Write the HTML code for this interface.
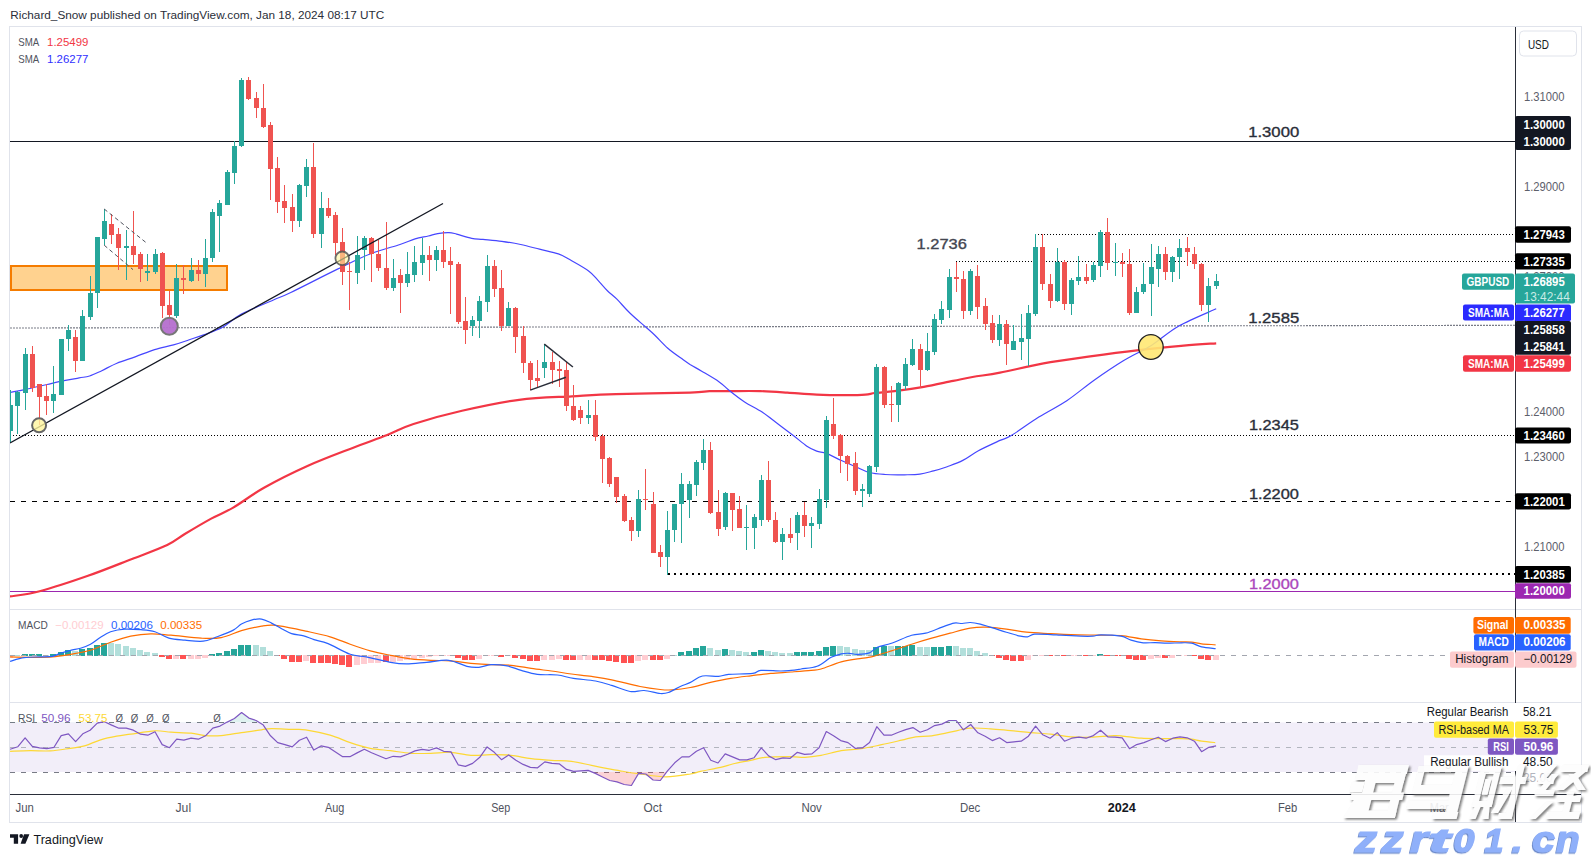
<!DOCTYPE html>
<html><head><meta charset="utf-8"><style>
html,body{margin:0;padding:0;background:#fff;}
body{width:1591px;height:857px;overflow:hidden;}
svg{display:block;font-family:"Liberation Sans", sans-serif;}
</style></head><body>
<svg width="1591" height="857" viewBox="0 0 1591 857">
<rect x="0" y="0" width="1591" height="857" fill="#fff"/>
<defs>
<clipPath id="pp"><rect x="10" y="27" width="1505" height="582"/></clipPath>
<clipPath id="mp"><rect x="10" y="610" width="1505" height="92"/></clipPath>
<clipPath id="rp"><rect x="10" y="703" width="1505" height="91"/></clipPath>
</defs>

<text x="10.3" y="19.1" font-size="11.5" textLength="374.0" lengthAdjust="spacingAndGlyphs" fill="#2a2e39">Richard_Snow published on TradingView.com, Jan 18, 2024 08:17 UTC</text>
<rect x="9.5" y="26.5" width="1572" height="796" fill="none" stroke="#e0e3eb" stroke-width="1"/>
<line x1="10" y1="609.5" x2="1581" y2="609.5" stroke="#e0e3eb"/>
<line x1="10" y1="702.5" x2="1581" y2="702.5" stroke="#e0e3eb"/>
<g clip-path="url(#pp)">
<rect x="11" y="266" width="216" height="24" fill="#ffd28f" stroke="#f57c00" stroke-width="2"/>
<g shape-rendering="crispEdges">
<line x1="10" y1="141.5" x2="1515" y2="141.5" stroke="#131722" stroke-width="1"/>
<line x1="1035" y1="234.5" x2="1515" y2="234.5" stroke="#000" stroke-width="1" stroke-dasharray="1 2"/>
<line x1="956" y1="261.5" x2="1515" y2="261.5" stroke="#000" stroke-width="1" stroke-dasharray="1 2"/>
<line x1="10" y1="435.5" x2="1515" y2="435.5" stroke="#000" stroke-width="1" stroke-dasharray="1 2"/>
<line x1="10" y1="501.5" x2="1515" y2="501.5" stroke="#000" stroke-width="1" stroke-dasharray="5 6"/>
<line x1="668" y1="574" x2="1515" y2="574" stroke="#000" stroke-width="2" stroke-dasharray="2 4"/>
<line x1="10" y1="591.5" x2="1515" y2="591.5" stroke="#9c27b0" stroke-width="1"/>
</g>
<line x1="10" y1="328" x2="1515" y2="325.3" stroke="#787b86" stroke-width="1.1" stroke-dasharray="2 1"/>
<path d="M9.7,596.5 C14.7,595.6 26.6,594.7 39.6,591.2 C52.6,587.8 72.6,581.2 88.0,575.8 C103.4,570.4 118.8,564.1 132.0,559.0 C145.2,553.9 158.4,549.2 167.2,545.0 C176.0,540.8 177.5,538.4 184.8,534.0 C192.1,529.6 203.1,523.0 211.2,518.6 C219.3,514.2 224.4,512.7 233.2,507.6 C242.0,502.5 251.5,494.8 264.0,487.8 C276.5,480.8 293.3,472.4 308.0,465.8 C322.7,459.2 338.8,453.3 352.0,448.2 C365.2,443.1 376.9,439.0 387.2,435.0 C397.4,431.0 401.0,428.0 413.5,424.0 C426.0,420.0 444.4,414.8 462.0,410.8 C479.6,406.8 500.8,402.2 519.1,399.8 C537.4,397.4 555.8,397.2 571.9,396.3 C588.0,395.4 596.2,394.7 615.9,394.1 C635.6,393.5 674.4,393.1 690.0,392.6 C705.6,392.1 703.0,391.4 709.5,391.2 C716.0,390.9 720.6,391.1 729.0,391.1 C737.4,391.1 750.4,390.9 760.1,391.1 C769.8,391.4 778.0,392.0 787.4,392.6 C796.8,393.2 807.0,394.2 816.7,394.6 C826.5,395.0 837.8,395.1 845.9,395.1 C854.0,395.1 860.5,395.0 865.4,394.6 C870.3,394.2 870.2,393.6 875.1,393.0 C880.0,392.4 886.5,392.1 894.6,391.1 C902.7,390.1 914.0,388.5 923.8,386.8 C933.5,385.1 945.0,382.5 953.1,380.9 C961.2,379.3 964.7,378.4 972.5,377.0 C980.3,375.6 988.2,375.0 1000.0,372.7 C1011.8,370.4 1028.5,366.1 1043.5,363.4 C1058.5,360.7 1074.6,358.6 1090.2,356.4 C1105.8,354.2 1121.3,352.1 1136.9,350.3 C1152.5,348.5 1170.4,346.9 1183.6,345.7 C1196.8,344.5 1210.8,343.7 1216.2,343.3" fill="none" stroke="#f23645" stroke-width="2.2" stroke-linejoin="round"/>
<path d="M10.4,392.4 C12.8,391.9 18.4,390.9 24.5,389.6 C30.6,388.3 40.5,386.0 47.1,384.5 C53.7,383.0 58.7,381.8 64.1,380.7 C69.4,379.6 75.0,378.7 79.2,377.9 C83.5,377.1 85.8,377.2 89.6,376.0 C93.4,374.8 97.2,372.8 101.8,370.7 C106.3,368.6 111.2,365.5 116.9,363.2 C122.6,360.9 129.5,358.9 135.8,356.6 C142.1,354.3 148.3,351.6 154.6,349.6 C160.9,347.7 167.8,346.5 173.5,344.9 C179.2,343.3 183.6,341.7 188.6,340.0 C193.6,338.3 198.0,337.0 203.7,334.9 C209.3,332.8 216.2,330.8 222.5,327.3 C228.8,323.8 232.9,318.7 241.4,314.1 C249.9,309.6 265.2,303.6 273.4,300.0 C281.6,296.4 280.2,297.6 290.8,292.5 C301.4,287.4 323.8,275.8 337.0,269.4 C350.2,263.0 359.5,258.1 370.0,254.0 C380.5,249.8 392.5,247.0 400.0,244.5 C407.5,242.0 410.4,240.3 415.1,238.9 C419.8,237.5 424.5,236.9 428.3,236.0 C432.1,235.1 434.2,234.2 437.7,233.6 C441.1,233.0 445.9,232.5 449.0,232.6 C452.1,232.7 452.8,233.1 456.6,234.1 C460.4,235.1 467.3,237.4 471.7,238.3 C476.1,239.2 478.0,238.9 483.0,239.4 C488.0,239.9 495.5,240.5 501.8,241.3 C508.1,242.2 514.4,243.2 520.7,244.5 C527.0,245.8 533.2,247.6 539.5,249.2 C545.8,250.8 553.4,252.2 558.4,253.9 C563.4,255.6 564.7,256.8 569.7,259.6 C574.7,262.4 583.9,267.4 588.6,270.9 C593.3,274.3 594.9,277.0 598.0,280.3 C601.1,283.6 604.2,287.6 607.4,290.7 C610.5,293.8 613.1,295.4 616.9,299.2 C620.7,303.0 625.4,308.8 630.1,313.3 C634.8,317.9 641.0,322.9 645.1,326.5 C649.2,330.1 650.8,331.4 654.6,335.0 C658.4,338.6 663.1,344.1 667.8,348.2 C672.5,352.3 679.2,356.8 682.9,359.5 C686.6,362.2 686.9,362.4 690.0,364.4 C693.1,366.3 696.8,368.3 701.7,371.2 C706.6,374.1 714.7,378.7 719.2,381.9 C723.8,385.1 724.8,386.9 729.0,390.3 C733.2,393.7 739.1,398.4 744.6,402.0 C750.1,405.6 756.6,408.5 762.1,412.1 C767.6,415.7 772.5,419.9 777.7,423.8 C782.9,427.7 788.4,431.8 793.3,435.5 C798.2,439.2 803.0,443.6 806.9,446.2 C810.8,448.8 813.5,449.9 816.7,451.1 C820.0,452.3 822.2,451.8 826.4,453.4 C830.6,455.0 837.1,458.6 842.0,460.8 C846.9,463.0 851.1,464.8 855.6,466.7 C860.1,468.6 864.4,471.2 869.3,472.5 C874.2,473.8 879.1,474.1 884.9,474.5 C890.7,474.9 898.5,474.9 904.3,474.8 C910.1,474.7 915.0,474.8 919.9,474.1 C924.8,473.5 929.0,472.1 933.6,470.9 C938.2,469.7 942.3,468.4 947.2,466.7 C952.1,464.9 957.6,463.1 962.8,460.4 C968.0,457.7 972.2,454.0 978.4,450.7 C984.6,447.4 994.6,442.9 1000.0,440.4 C1005.4,437.9 1004.3,439.7 1010.8,435.8 C1017.3,431.9 1029.5,423.0 1038.8,417.1 C1048.1,411.2 1057.5,406.9 1066.8,400.7 C1076.1,394.5 1085.4,386.3 1094.8,379.7 C1104.2,373.1 1113.6,366.7 1122.9,361.0 C1132.2,355.3 1141.6,351.5 1150.9,345.7 C1160.2,339.9 1168.0,332.1 1178.9,326.0 C1189.8,319.9 1210.0,311.7 1216.2,308.8" fill="none" stroke="#4646ff" stroke-width="1.2" stroke-linejoin="round"/>
<g shape-rendering="crispEdges">
<rect x="10" y="390" width="1" height="52" fill="#26a69a"/>
<rect x="8" y="405" width="5" height="26" fill="#26a69a"/>
<rect x="17" y="391" width="1" height="43" fill="#26a69a"/>
<rect x="15" y="392" width="5" height="14" fill="#26a69a"/>
<rect x="25" y="348" width="1" height="62" fill="#26a69a"/>
<rect x="23" y="354" width="5" height="39" fill="#26a69a"/>
<rect x="32" y="346" width="1" height="46" fill="#ef5350"/>
<rect x="30" y="354" width="5" height="34" fill="#ef5350"/>
<rect x="39" y="384" width="1" height="41" fill="#ef5350"/>
<rect x="37" y="384" width="5" height="13" fill="#ef5350"/>
<rect x="46" y="384" width="1" height="31" fill="#ef5350"/>
<rect x="44" y="396" width="5" height="5" fill="#ef5350"/>
<rect x="53" y="366" width="1" height="47" fill="#26a69a"/>
<rect x="51" y="394" width="5" height="7" fill="#26a69a"/>
<rect x="61" y="339" width="1" height="56" fill="#26a69a"/>
<rect x="59" y="339" width="5" height="56" fill="#26a69a"/>
<rect x="68" y="325" width="1" height="26" fill="#26a69a"/>
<rect x="66" y="330" width="5" height="9" fill="#26a69a"/>
<rect x="75" y="330" width="1" height="42" fill="#ef5350"/>
<rect x="73" y="337" width="5" height="24" fill="#ef5350"/>
<rect x="82" y="310" width="1" height="51" fill="#26a69a"/>
<rect x="80" y="316" width="5" height="45" fill="#26a69a"/>
<rect x="90" y="276" width="1" height="44" fill="#26a69a"/>
<rect x="88" y="293" width="5" height="24" fill="#26a69a"/>
<rect x="97" y="237" width="1" height="71" fill="#26a69a"/>
<rect x="95" y="237" width="5" height="56" fill="#26a69a"/>
<rect x="104" y="209" width="1" height="36" fill="#26a69a"/>
<rect x="102" y="221" width="5" height="18" fill="#26a69a"/>
<rect x="111" y="214" width="1" height="30" fill="#ef5350"/>
<rect x="109" y="224" width="5" height="11" fill="#ef5350"/>
<rect x="118" y="228" width="1" height="42" fill="#ef5350"/>
<rect x="116" y="234" width="5" height="14" fill="#ef5350"/>
<rect x="126" y="230" width="1" height="50" fill="#26a69a"/>
<rect x="124" y="246" width="5" height="2" fill="#26a69a"/>
<rect x="133" y="211" width="1" height="53" fill="#ef5350"/>
<rect x="131" y="246" width="5" height="9" fill="#ef5350"/>
<rect x="140" y="252" width="1" height="30" fill="#ef5350"/>
<rect x="138" y="254" width="5" height="15" fill="#ef5350"/>
<rect x="147" y="254" width="1" height="27" fill="#26a69a"/>
<rect x="145" y="271" width="5" height="2" fill="#26a69a"/>
<rect x="155" y="249" width="1" height="25" fill="#26a69a"/>
<rect x="153" y="254" width="5" height="18" fill="#26a69a"/>
<rect x="162" y="252" width="1" height="66" fill="#ef5350"/>
<rect x="160" y="253" width="5" height="53" fill="#ef5350"/>
<rect x="169" y="291" width="1" height="34" fill="#ef5350"/>
<rect x="167" y="305" width="5" height="10" fill="#ef5350"/>
<rect x="176" y="264" width="1" height="54" fill="#26a69a"/>
<rect x="174" y="278" width="5" height="38" fill="#26a69a"/>
<rect x="183" y="265" width="1" height="29" fill="#ef5350"/>
<rect x="181" y="278" width="5" height="2" fill="#ef5350"/>
<rect x="191" y="258" width="1" height="24" fill="#26a69a"/>
<rect x="189" y="270" width="5" height="11" fill="#26a69a"/>
<rect x="198" y="260" width="1" height="21" fill="#ef5350"/>
<rect x="196" y="270" width="5" height="4" fill="#ef5350"/>
<rect x="205" y="239" width="1" height="48" fill="#26a69a"/>
<rect x="203" y="258" width="5" height="16" fill="#26a69a"/>
<rect x="212" y="209" width="1" height="53" fill="#26a69a"/>
<rect x="210" y="212" width="5" height="46" fill="#26a69a"/>
<rect x="219" y="200" width="1" height="52" fill="#26a69a"/>
<rect x="217" y="203" width="5" height="13" fill="#26a69a"/>
<rect x="227" y="170" width="1" height="35" fill="#26a69a"/>
<rect x="225" y="172" width="5" height="33" fill="#26a69a"/>
<rect x="234" y="141" width="1" height="43" fill="#26a69a"/>
<rect x="232" y="146" width="5" height="27" fill="#26a69a"/>
<rect x="241" y="78" width="1" height="69" fill="#26a69a"/>
<rect x="239" y="80" width="5" height="66" fill="#26a69a"/>
<rect x="248" y="77" width="1" height="23" fill="#ef5350"/>
<rect x="246" y="80" width="5" height="19" fill="#ef5350"/>
<rect x="256" y="92" width="1" height="26" fill="#ef5350"/>
<rect x="254" y="98" width="5" height="10" fill="#ef5350"/>
<rect x="263" y="84" width="1" height="44" fill="#ef5350"/>
<rect x="261" y="108" width="5" height="19" fill="#ef5350"/>
<rect x="270" y="122" width="1" height="78" fill="#ef5350"/>
<rect x="268" y="125" width="5" height="44" fill="#ef5350"/>
<rect x="277" y="157" width="1" height="56" fill="#ef5350"/>
<rect x="275" y="168" width="5" height="34" fill="#ef5350"/>
<rect x="284" y="185" width="1" height="38" fill="#ef5350"/>
<rect x="282" y="201" width="5" height="7" fill="#ef5350"/>
<rect x="292" y="194" width="1" height="38" fill="#ef5350"/>
<rect x="290" y="207" width="5" height="14" fill="#ef5350"/>
<rect x="299" y="184" width="1" height="43" fill="#26a69a"/>
<rect x="297" y="185" width="5" height="36" fill="#26a69a"/>
<rect x="306" y="159" width="1" height="38" fill="#26a69a"/>
<rect x="304" y="167" width="5" height="19" fill="#26a69a"/>
<rect x="313" y="143" width="1" height="95" fill="#ef5350"/>
<rect x="311" y="167" width="5" height="67" fill="#ef5350"/>
<rect x="321" y="192" width="1" height="56" fill="#26a69a"/>
<rect x="319" y="208" width="5" height="26" fill="#26a69a"/>
<rect x="328" y="198" width="1" height="20" fill="#ef5350"/>
<rect x="326" y="208" width="5" height="8" fill="#ef5350"/>
<rect x="335" y="212" width="1" height="43" fill="#ef5350"/>
<rect x="333" y="215" width="5" height="28" fill="#ef5350"/>
<rect x="342" y="228" width="1" height="57" fill="#ef5350"/>
<rect x="340" y="242" width="5" height="30" fill="#ef5350"/>
<rect x="349" y="262" width="1" height="48" fill="#ef5350"/>
<rect x="347" y="271" width="5" height="1" fill="#ef5350"/>
<rect x="357" y="236" width="1" height="48" fill="#26a69a"/>
<rect x="355" y="255" width="5" height="18" fill="#26a69a"/>
<rect x="364" y="236" width="1" height="34" fill="#26a69a"/>
<rect x="362" y="238" width="5" height="12" fill="#26a69a"/>
<rect x="371" y="237" width="1" height="45" fill="#ef5350"/>
<rect x="369" y="238" width="5" height="16" fill="#ef5350"/>
<rect x="378" y="240" width="1" height="31" fill="#ef5350"/>
<rect x="376" y="254" width="5" height="14" fill="#ef5350"/>
<rect x="386" y="222" width="1" height="68" fill="#ef5350"/>
<rect x="384" y="268" width="5" height="20" fill="#ef5350"/>
<rect x="393" y="259" width="1" height="32" fill="#26a69a"/>
<rect x="391" y="278" width="5" height="10" fill="#26a69a"/>
<rect x="400" y="269" width="1" height="44" fill="#ef5350"/>
<rect x="398" y="275" width="5" height="8" fill="#ef5350"/>
<rect x="407" y="252" width="1" height="35" fill="#26a69a"/>
<rect x="405" y="274" width="5" height="9" fill="#26a69a"/>
<rect x="414" y="246" width="1" height="36" fill="#26a69a"/>
<rect x="412" y="262" width="5" height="13" fill="#26a69a"/>
<rect x="422" y="238" width="1" height="37" fill="#26a69a"/>
<rect x="420" y="255" width="5" height="8" fill="#26a69a"/>
<rect x="429" y="246" width="1" height="35" fill="#ef5350"/>
<rect x="427" y="255" width="5" height="5" fill="#ef5350"/>
<rect x="436" y="246" width="1" height="25" fill="#26a69a"/>
<rect x="434" y="250" width="5" height="10" fill="#26a69a"/>
<rect x="443" y="231" width="1" height="37" fill="#ef5350"/>
<rect x="441" y="250" width="5" height="12" fill="#ef5350"/>
<rect x="450" y="247" width="1" height="67" fill="#ef5350"/>
<rect x="448" y="261" width="5" height="4" fill="#ef5350"/>
<rect x="458" y="262" width="1" height="62" fill="#ef5350"/>
<rect x="456" y="264" width="5" height="58" fill="#ef5350"/>
<rect x="465" y="297" width="1" height="47" fill="#ef5350"/>
<rect x="463" y="321" width="5" height="9" fill="#ef5350"/>
<rect x="472" y="316" width="1" height="20" fill="#26a69a"/>
<rect x="470" y="320" width="5" height="6" fill="#26a69a"/>
<rect x="479" y="296" width="1" height="42" fill="#26a69a"/>
<rect x="477" y="301" width="5" height="20" fill="#26a69a"/>
<rect x="487" y="255" width="1" height="57" fill="#26a69a"/>
<rect x="485" y="266" width="5" height="36" fill="#26a69a"/>
<rect x="494" y="260" width="1" height="37" fill="#ef5350"/>
<rect x="492" y="266" width="5" height="23" fill="#ef5350"/>
<rect x="501" y="270" width="1" height="61" fill="#ef5350"/>
<rect x="499" y="288" width="5" height="38" fill="#ef5350"/>
<rect x="508" y="302" width="1" height="24" fill="#26a69a"/>
<rect x="506" y="308" width="5" height="18" fill="#26a69a"/>
<rect x="515" y="307" width="1" height="46" fill="#ef5350"/>
<rect x="513" y="308" width="5" height="29" fill="#ef5350"/>
<rect x="523" y="326" width="1" height="47" fill="#ef5350"/>
<rect x="521" y="336" width="5" height="27" fill="#ef5350"/>
<rect x="530" y="361" width="1" height="29" fill="#ef5350"/>
<rect x="528" y="363" width="5" height="17" fill="#ef5350"/>
<rect x="537" y="360" width="1" height="27" fill="#ef5350"/>
<rect x="535" y="378" width="5" height="3" fill="#ef5350"/>
<rect x="544" y="344" width="1" height="34" fill="#26a69a"/>
<rect x="542" y="362" width="5" height="6" fill="#26a69a"/>
<rect x="552" y="352" width="1" height="32" fill="#ef5350"/>
<rect x="550" y="362" width="5" height="8" fill="#ef5350"/>
<rect x="559" y="361" width="1" height="26" fill="#ef5350"/>
<rect x="557" y="369" width="5" height="2" fill="#ef5350"/>
<rect x="566" y="362" width="1" height="49" fill="#ef5350"/>
<rect x="564" y="370" width="5" height="36" fill="#ef5350"/>
<rect x="573" y="385" width="1" height="36" fill="#ef5350"/>
<rect x="571" y="406" width="5" height="14" fill="#ef5350"/>
<rect x="580" y="406" width="1" height="18" fill="#ef5350"/>
<rect x="578" y="410" width="5" height="8" fill="#ef5350"/>
<rect x="588" y="400" width="1" height="24" fill="#26a69a"/>
<rect x="586" y="415" width="5" height="3" fill="#26a69a"/>
<rect x="595" y="400" width="1" height="41" fill="#ef5350"/>
<rect x="593" y="415" width="5" height="22" fill="#ef5350"/>
<rect x="602" y="434" width="1" height="49" fill="#ef5350"/>
<rect x="600" y="436" width="5" height="23" fill="#ef5350"/>
<rect x="609" y="457" width="1" height="30" fill="#ef5350"/>
<rect x="607" y="458" width="5" height="26" fill="#ef5350"/>
<rect x="616" y="477" width="1" height="26" fill="#ef5350"/>
<rect x="614" y="477" width="5" height="20" fill="#ef5350"/>
<rect x="624" y="494" width="1" height="28" fill="#ef5350"/>
<rect x="622" y="496" width="5" height="25" fill="#ef5350"/>
<rect x="631" y="517" width="1" height="24" fill="#ef5350"/>
<rect x="629" y="520" width="5" height="11" fill="#ef5350"/>
<rect x="638" y="490" width="1" height="47" fill="#26a69a"/>
<rect x="636" y="499" width="5" height="32" fill="#26a69a"/>
<rect x="645" y="469" width="1" height="41" fill="#ef5350"/>
<rect x="643" y="499" width="5" height="1" fill="#ef5350"/>
<rect x="653" y="492" width="1" height="61" fill="#ef5350"/>
<rect x="651" y="504" width="5" height="49" fill="#ef5350"/>
<rect x="660" y="545" width="1" height="22" fill="#ef5350"/>
<rect x="658" y="552" width="5" height="5" fill="#ef5350"/>
<rect x="667" y="511" width="1" height="64" fill="#26a69a"/>
<rect x="665" y="530" width="5" height="27" fill="#26a69a"/>
<rect x="674" y="504" width="1" height="38" fill="#26a69a"/>
<rect x="672" y="504" width="5" height="26" fill="#26a69a"/>
<rect x="681" y="473" width="1" height="70" fill="#26a69a"/>
<rect x="679" y="484" width="5" height="20" fill="#26a69a"/>
<rect x="689" y="481" width="1" height="37" fill="#26a69a"/>
<rect x="687" y="484" width="5" height="16" fill="#26a69a"/>
<rect x="696" y="460" width="1" height="36" fill="#26a69a"/>
<rect x="694" y="462" width="5" height="23" fill="#26a69a"/>
<rect x="703" y="439" width="1" height="31" fill="#26a69a"/>
<rect x="701" y="450" width="5" height="13" fill="#26a69a"/>
<rect x="710" y="442" width="1" height="72" fill="#ef5350"/>
<rect x="708" y="450" width="5" height="63" fill="#ef5350"/>
<rect x="718" y="490" width="1" height="46" fill="#ef5350"/>
<rect x="716" y="512" width="5" height="17" fill="#ef5350"/>
<rect x="725" y="492" width="1" height="38" fill="#26a69a"/>
<rect x="723" y="493" width="5" height="34" fill="#26a69a"/>
<rect x="732" y="493" width="1" height="38" fill="#ef5350"/>
<rect x="730" y="493" width="5" height="17" fill="#ef5350"/>
<rect x="739" y="496" width="1" height="32" fill="#ef5350"/>
<rect x="737" y="509" width="5" height="19" fill="#ef5350"/>
<rect x="746" y="505" width="1" height="45" fill="#26a69a"/>
<rect x="744" y="527" width="5" height="1" fill="#26a69a"/>
<rect x="754" y="514" width="1" height="35" fill="#26a69a"/>
<rect x="752" y="517" width="5" height="11" fill="#26a69a"/>
<rect x="761" y="475" width="1" height="51" fill="#26a69a"/>
<rect x="759" y="480" width="5" height="40" fill="#26a69a"/>
<rect x="768" y="461" width="1" height="61" fill="#ef5350"/>
<rect x="766" y="480" width="5" height="40" fill="#ef5350"/>
<rect x="775" y="512" width="1" height="31" fill="#ef5350"/>
<rect x="773" y="520" width="5" height="22" fill="#ef5350"/>
<rect x="782" y="528" width="1" height="32" fill="#26a69a"/>
<rect x="780" y="534" width="5" height="8" fill="#26a69a"/>
<rect x="790" y="518" width="1" height="25" fill="#ef5350"/>
<rect x="788" y="534" width="5" height="4" fill="#ef5350"/>
<rect x="797" y="512" width="1" height="38" fill="#26a69a"/>
<rect x="795" y="515" width="5" height="18" fill="#26a69a"/>
<rect x="804" y="502" width="1" height="35" fill="#ef5350"/>
<rect x="802" y="515" width="5" height="11" fill="#ef5350"/>
<rect x="811" y="517" width="1" height="31" fill="#26a69a"/>
<rect x="809" y="523" width="5" height="3" fill="#26a69a"/>
<rect x="819" y="489" width="1" height="40" fill="#26a69a"/>
<rect x="817" y="499" width="5" height="25" fill="#26a69a"/>
<rect x="826" y="416" width="1" height="92" fill="#26a69a"/>
<rect x="824" y="420" width="5" height="80" fill="#26a69a"/>
<rect x="833" y="398" width="1" height="41" fill="#ef5350"/>
<rect x="831" y="424" width="5" height="12" fill="#ef5350"/>
<rect x="840" y="434" width="1" height="39" fill="#ef5350"/>
<rect x="838" y="435" width="5" height="21" fill="#ef5350"/>
<rect x="847" y="455" width="1" height="26" fill="#ef5350"/>
<rect x="845" y="456" width="5" height="8" fill="#ef5350"/>
<rect x="855" y="452" width="1" height="43" fill="#ef5350"/>
<rect x="853" y="463" width="5" height="28" fill="#ef5350"/>
<rect x="862" y="484" width="1" height="23" fill="#26a69a"/>
<rect x="860" y="489" width="5" height="2" fill="#26a69a"/>
<rect x="869" y="465" width="1" height="32" fill="#26a69a"/>
<rect x="867" y="466" width="5" height="28" fill="#26a69a"/>
<rect x="876" y="364" width="1" height="108" fill="#26a69a"/>
<rect x="874" y="367" width="5" height="100" fill="#26a69a"/>
<rect x="884" y="366" width="1" height="42" fill="#ef5350"/>
<rect x="882" y="367" width="5" height="38" fill="#ef5350"/>
<rect x="891" y="386" width="1" height="36" fill="#ef5350"/>
<rect x="889" y="404" width="5" height="1" fill="#ef5350"/>
<rect x="898" y="382" width="1" height="40" fill="#26a69a"/>
<rect x="896" y="383" width="5" height="22" fill="#26a69a"/>
<rect x="905" y="358" width="1" height="32" fill="#26a69a"/>
<rect x="903" y="364" width="5" height="22" fill="#26a69a"/>
<rect x="912" y="339" width="1" height="27" fill="#26a69a"/>
<rect x="910" y="349" width="5" height="16" fill="#26a69a"/>
<rect x="920" y="344" width="1" height="44" fill="#ef5350"/>
<rect x="918" y="349" width="5" height="21" fill="#ef5350"/>
<rect x="927" y="333" width="1" height="38" fill="#26a69a"/>
<rect x="925" y="351" width="5" height="19" fill="#26a69a"/>
<rect x="934" y="314" width="1" height="41" fill="#26a69a"/>
<rect x="932" y="319" width="5" height="33" fill="#26a69a"/>
<rect x="941" y="301" width="1" height="23" fill="#26a69a"/>
<rect x="939" y="309" width="5" height="11" fill="#26a69a"/>
<rect x="949" y="269" width="1" height="49" fill="#26a69a"/>
<rect x="947" y="277" width="5" height="33" fill="#26a69a"/>
<rect x="956" y="262" width="1" height="30" fill="#ef5350"/>
<rect x="954" y="277" width="5" height="2" fill="#ef5350"/>
<rect x="963" y="271" width="1" height="48" fill="#ef5350"/>
<rect x="961" y="279" width="5" height="32" fill="#ef5350"/>
<rect x="970" y="269" width="1" height="46" fill="#26a69a"/>
<rect x="968" y="271" width="5" height="40" fill="#26a69a"/>
<rect x="977" y="265" width="1" height="54" fill="#ef5350"/>
<rect x="975" y="276" width="5" height="31" fill="#ef5350"/>
<rect x="985" y="298" width="1" height="32" fill="#ef5350"/>
<rect x="983" y="306" width="5" height="18" fill="#ef5350"/>
<rect x="992" y="315" width="1" height="28" fill="#ef5350"/>
<rect x="990" y="323" width="5" height="17" fill="#ef5350"/>
<rect x="999" y="315" width="1" height="31" fill="#26a69a"/>
<rect x="997" y="324" width="5" height="16" fill="#26a69a"/>
<rect x="1006" y="320" width="1" height="45" fill="#ef5350"/>
<rect x="1004" y="324" width="5" height="20" fill="#ef5350"/>
<rect x="1013" y="325" width="1" height="25" fill="#26a69a"/>
<rect x="1011" y="341" width="5" height="9" fill="#26a69a"/>
<rect x="1021" y="314" width="1" height="46" fill="#26a69a"/>
<rect x="1019" y="338" width="5" height="4" fill="#26a69a"/>
<rect x="1028" y="305" width="1" height="61" fill="#26a69a"/>
<rect x="1026" y="313" width="5" height="26" fill="#26a69a"/>
<rect x="1035" y="234" width="1" height="82" fill="#26a69a"/>
<rect x="1033" y="247" width="5" height="67" fill="#26a69a"/>
<rect x="1042" y="234" width="1" height="56" fill="#ef5350"/>
<rect x="1040" y="247" width="5" height="37" fill="#ef5350"/>
<rect x="1050" y="274" width="1" height="34" fill="#ef5350"/>
<rect x="1048" y="284" width="5" height="17" fill="#ef5350"/>
<rect x="1057" y="248" width="1" height="54" fill="#26a69a"/>
<rect x="1055" y="262" width="5" height="39" fill="#26a69a"/>
<rect x="1064" y="260" width="1" height="50" fill="#ef5350"/>
<rect x="1062" y="262" width="5" height="42" fill="#ef5350"/>
<rect x="1071" y="278" width="1" height="37" fill="#26a69a"/>
<rect x="1069" y="280" width="5" height="24" fill="#26a69a"/>
<rect x="1078" y="256" width="1" height="29" fill="#26a69a"/>
<rect x="1076" y="277" width="5" height="4" fill="#26a69a"/>
<rect x="1086" y="264" width="1" height="20" fill="#ef5350"/>
<rect x="1084" y="277" width="5" height="4" fill="#ef5350"/>
<rect x="1093" y="262" width="1" height="20" fill="#26a69a"/>
<rect x="1091" y="265" width="5" height="15" fill="#26a69a"/>
<rect x="1100" y="230" width="1" height="47" fill="#26a69a"/>
<rect x="1098" y="232" width="5" height="34" fill="#26a69a"/>
<rect x="1107" y="218" width="1" height="52" fill="#ef5350"/>
<rect x="1105" y="232" width="5" height="31" fill="#ef5350"/>
<rect x="1115" y="243" width="1" height="33" fill="#26a69a"/>
<rect x="1113" y="262" width="5" height="1" fill="#26a69a"/>
<rect x="1122" y="253" width="1" height="24" fill="#ef5350"/>
<rect x="1120" y="262" width="5" height="2" fill="#ef5350"/>
<rect x="1129" y="249" width="1" height="66" fill="#ef5350"/>
<rect x="1127" y="264" width="5" height="49" fill="#ef5350"/>
<rect x="1136" y="287" width="1" height="26" fill="#26a69a"/>
<rect x="1134" y="292" width="5" height="21" fill="#26a69a"/>
<rect x="1143" y="263" width="1" height="31" fill="#26a69a"/>
<rect x="1141" y="284" width="5" height="8" fill="#26a69a"/>
<rect x="1151" y="244" width="1" height="72" fill="#26a69a"/>
<rect x="1149" y="267" width="5" height="17" fill="#26a69a"/>
<rect x="1158" y="246" width="1" height="41" fill="#26a69a"/>
<rect x="1156" y="254" width="5" height="15" fill="#26a69a"/>
<rect x="1165" y="247" width="1" height="33" fill="#ef5350"/>
<rect x="1163" y="254" width="5" height="18" fill="#ef5350"/>
<rect x="1172" y="256" width="1" height="26" fill="#26a69a"/>
<rect x="1170" y="257" width="5" height="15" fill="#26a69a"/>
<rect x="1179" y="239" width="1" height="40" fill="#26a69a"/>
<rect x="1177" y="248" width="5" height="9" fill="#26a69a"/>
<rect x="1187" y="237" width="1" height="29" fill="#ef5350"/>
<rect x="1185" y="248" width="5" height="4" fill="#ef5350"/>
<rect x="1194" y="247" width="1" height="22" fill="#ef5350"/>
<rect x="1192" y="254" width="5" height="10" fill="#ef5350"/>
<rect x="1201" y="263" width="1" height="48" fill="#ef5350"/>
<rect x="1199" y="264" width="5" height="41" fill="#ef5350"/>
<rect x="1208" y="278" width="1" height="44" fill="#26a69a"/>
<rect x="1206" y="286" width="5" height="19" fill="#26a69a"/>
<rect x="1216" y="274" width="1" height="15" fill="#26a69a"/>
<rect x="1214" y="281" width="5" height="5" fill="#26a69a"/>
</g>
<line x1="10" y1="443" x2="443" y2="203.5" stroke="#131722" stroke-width="1.3"/>
<line x1="104.2" y1="209" x2="147.2" y2="243.5" stroke="#50535e" stroke-width="1" stroke-dasharray="4 3"/>
<line x1="104.2" y1="245.2" x2="133" y2="269.6" stroke="#50535e" stroke-width="1" stroke-dasharray="4 3"/>
<line x1="544.3" y1="344.2" x2="572.9" y2="367" stroke="#2a2e39" stroke-width="1.5"/>
<line x1="530.2" y1="390.1" x2="565.9" y2="377.2" stroke="#2a2e39" stroke-width="1.5"/>
<circle cx="39.1" cy="425.3" r="7" fill="#fff59d" fill-opacity="0.8" stroke="#666" stroke-width="2"/>
<circle cx="169.3" cy="326.2" r="8.5" fill="#b56fcf" fill-opacity="0.95" stroke="#777" stroke-width="2"/>
<circle cx="342.2" cy="258.3" r="6.8" fill="#fff59d" fill-opacity="0.6" stroke="#555" stroke-opacity="0.85" stroke-width="1.8"/>
<circle cx="1150.9" cy="347" r="12.3" fill="#ffe873" fill-opacity="0.9" stroke="#222" stroke-width="1.3"/>
<text x="1248.2" y="136.8" font-size="14.5" textLength="51.0" lengthAdjust="spacingAndGlyphs" fill="#2a2e39" stroke-width="0.35" stroke="#2a2e39">1.3000</text>
<text x="916.6" y="249.2" font-size="14.5" textLength="50.3" lengthAdjust="spacingAndGlyphs" fill="#434651" stroke-width="0.35" stroke="#434651">1.2736</text>
<text x="1248.2" y="322.9" font-size="14.5" textLength="51.0" lengthAdjust="spacingAndGlyphs" fill="#2a2e39" stroke-width="0.35" stroke="#2a2e39">1.2585</text>
<text x="1248.9" y="429.9" font-size="14.5" textLength="50.0" lengthAdjust="spacingAndGlyphs" fill="#2a2e39" stroke-width="0.35" stroke="#2a2e39">1.2345</text>
<text x="1248.9" y="499.3" font-size="14.5" textLength="50.0" lengthAdjust="spacingAndGlyphs" fill="#2a2e39" stroke-width="0.35" stroke="#2a2e39">1.2200</text>
<text x="1248.9" y="588.7" font-size="14.5" textLength="50.0" lengthAdjust="spacingAndGlyphs" fill="#ab47bc" stroke-width="0.35" stroke="#ab47bc">1.2000</text>
</g>
<text x="18.2" y="45.5" font-size="11.5" textLength="21.0" lengthAdjust="spacingAndGlyphs" fill="#50535e">SMA</text>
<text x="47.1" y="45.5" font-size="11.5" textLength="41.3" lengthAdjust="spacingAndGlyphs" fill="#f23645">1.25499</text>
<text x="18.2" y="62.5" font-size="11.5" textLength="21.0" lengthAdjust="spacingAndGlyphs" fill="#50535e">SMA</text>
<text x="47.1" y="62.5" font-size="11.5" textLength="41.3" lengthAdjust="spacingAndGlyphs" fill="#3030ff">1.26277</text>
<g clip-path="url(#mp)">
<g shape-rendering="crispEdges">
<rect x="7" y="655" width="6" height="3" fill="#ffcdd2"/>
<rect x="14" y="655" width="6" height="1" fill="#b2dfdb"/>
<rect x="22" y="654" width="6" height="2" fill="#26a69a"/>
<rect x="29" y="654" width="6" height="2" fill="#26a69a"/>
<rect x="36" y="654" width="6" height="2" fill="#26a69a"/>
<rect x="43" y="655" width="6" height="1" fill="#b2dfdb"/>
<rect x="50" y="654" width="6" height="2" fill="#26a69a"/>
<rect x="58" y="652" width="6" height="4" fill="#26a69a"/>
<rect x="65" y="650" width="6" height="6" fill="#26a69a"/>
<rect x="72" y="651" width="6" height="5" fill="#b2dfdb"/>
<rect x="79" y="649" width="6" height="7" fill="#26a69a"/>
<rect x="87" y="648" width="6" height="8" fill="#26a69a"/>
<rect x="94" y="645" width="6" height="11" fill="#26a69a"/>
<rect x="101" y="643" width="6" height="13" fill="#26a69a"/>
<rect x="108" y="643" width="6" height="13" fill="#b2dfdb"/>
<rect x="115" y="644" width="6" height="12" fill="#b2dfdb"/>
<rect x="123" y="646" width="6" height="10" fill="#b2dfdb"/>
<rect x="130" y="648" width="6" height="8" fill="#b2dfdb"/>
<rect x="137" y="650" width="6" height="6" fill="#b2dfdb"/>
<rect x="144" y="652" width="6" height="4" fill="#b2dfdb"/>
<rect x="152" y="653" width="6" height="3" fill="#b2dfdb"/>
<rect x="159" y="655" width="6" height="2" fill="#ff5252"/>
<rect x="166" y="655" width="6" height="4" fill="#ff5252"/>
<rect x="173" y="655" width="6" height="4" fill="#ffcdd2"/>
<rect x="180" y="655" width="6" height="4" fill="#ff5252"/>
<rect x="188" y="655" width="6" height="4" fill="#ffcdd2"/>
<rect x="195" y="655" width="6" height="4" fill="#ffcdd2"/>
<rect x="202" y="655" width="6" height="3" fill="#ffcdd2"/>
<rect x="209" y="654" width="6" height="2" fill="#26a69a"/>
<rect x="216" y="653" width="6" height="3" fill="#26a69a"/>
<rect x="224" y="651" width="6" height="5" fill="#26a69a"/>
<rect x="231" y="649" width="6" height="7" fill="#26a69a"/>
<rect x="238" y="645" width="6" height="11" fill="#26a69a"/>
<rect x="245" y="645" width="6" height="11" fill="#26a69a"/>
<rect x="253" y="645" width="6" height="11" fill="#b2dfdb"/>
<rect x="260" y="647" width="6" height="9" fill="#b2dfdb"/>
<rect x="267" y="651" width="6" height="5" fill="#b2dfdb"/>
<rect x="274" y="655" width="6" height="1" fill="#ff5252"/>
<rect x="281" y="655" width="6" height="4" fill="#ff5252"/>
<rect x="289" y="655" width="6" height="7" fill="#ff5252"/>
<rect x="296" y="655" width="6" height="7" fill="#ff5252"/>
<rect x="303" y="655" width="6" height="6" fill="#ffcdd2"/>
<rect x="310" y="655" width="6" height="8" fill="#ff5252"/>
<rect x="318" y="655" width="6" height="8" fill="#ff5252"/>
<rect x="325" y="655" width="6" height="8" fill="#ff5252"/>
<rect x="332" y="655" width="6" height="9" fill="#ff5252"/>
<rect x="339" y="655" width="6" height="10" fill="#ff5252"/>
<rect x="346" y="655" width="6" height="12" fill="#ff5252"/>
<rect x="354" y="655" width="6" height="10" fill="#ffcdd2"/>
<rect x="361" y="655" width="6" height="9" fill="#ffcdd2"/>
<rect x="368" y="655" width="6" height="8" fill="#ffcdd2"/>
<rect x="375" y="655" width="6" height="8" fill="#ffcdd2"/>
<rect x="383" y="655" width="6" height="7" fill="#ff5252"/>
<rect x="390" y="655" width="6" height="7" fill="#ffcdd2"/>
<rect x="397" y="655" width="6" height="6" fill="#ffcdd2"/>
<rect x="404" y="655" width="6" height="5" fill="#ffcdd2"/>
<rect x="411" y="655" width="6" height="4" fill="#ffcdd2"/>
<rect x="419" y="655" width="6" height="3" fill="#ffcdd2"/>
<rect x="426" y="655" width="6" height="2" fill="#ffcdd2"/>
<rect x="433" y="655" width="6" height="1" fill="#ffcdd2"/>
<rect x="440" y="655" width="6" height="1" fill="#ffcdd2"/>
<rect x="447" y="655" width="6" height="1" fill="#ffcdd2"/>
<rect x="455" y="655" width="6" height="3" fill="#ff5252"/>
<rect x="462" y="655" width="6" height="5" fill="#ff5252"/>
<rect x="469" y="655" width="6" height="5" fill="#ff5252"/>
<rect x="476" y="655" width="6" height="4" fill="#ffcdd2"/>
<rect x="484" y="655" width="6" height="1" fill="#ffcdd2"/>
<rect x="491" y="655" width="6" height="1" fill="#ffcdd2"/>
<rect x="498" y="655" width="6" height="2" fill="#ff5252"/>
<rect x="505" y="655" width="6" height="1" fill="#ffcdd2"/>
<rect x="512" y="655" width="6" height="3" fill="#ff5252"/>
<rect x="520" y="655" width="6" height="4" fill="#ff5252"/>
<rect x="527" y="655" width="6" height="6" fill="#ff5252"/>
<rect x="534" y="655" width="6" height="6" fill="#ff5252"/>
<rect x="541" y="655" width="6" height="5" fill="#ffcdd2"/>
<rect x="549" y="655" width="6" height="5" fill="#ffcdd2"/>
<rect x="556" y="655" width="6" height="4" fill="#ffcdd2"/>
<rect x="563" y="655" width="6" height="5" fill="#ff5252"/>
<rect x="570" y="655" width="6" height="5" fill="#ff5252"/>
<rect x="577" y="655" width="6" height="5" fill="#ffcdd2"/>
<rect x="585" y="655" width="6" height="5" fill="#ffcdd2"/>
<rect x="592" y="655" width="6" height="5" fill="#ff5252"/>
<rect x="599" y="655" width="6" height="5" fill="#ff5252"/>
<rect x="606" y="655" width="6" height="6" fill="#ff5252"/>
<rect x="613" y="655" width="6" height="7" fill="#ff5252"/>
<rect x="621" y="655" width="6" height="8" fill="#ff5252"/>
<rect x="628" y="655" width="6" height="8" fill="#ff5252"/>
<rect x="635" y="655" width="6" height="6" fill="#ffcdd2"/>
<rect x="642" y="655" width="6" height="5" fill="#ffcdd2"/>
<rect x="650" y="655" width="6" height="5" fill="#ff5252"/>
<rect x="657" y="655" width="6" height="5" fill="#ff5252"/>
<rect x="664" y="655" width="6" height="4" fill="#ffcdd2"/>
<rect x="671" y="655" width="6" height="1" fill="#b2dfdb"/>
<rect x="678" y="652" width="6" height="4" fill="#26a69a"/>
<rect x="686" y="651" width="6" height="5" fill="#26a69a"/>
<rect x="693" y="648" width="6" height="8" fill="#26a69a"/>
<rect x="700" y="646" width="6" height="10" fill="#26a69a"/>
<rect x="707" y="648" width="6" height="8" fill="#b2dfdb"/>
<rect x="715" y="650" width="6" height="6" fill="#b2dfdb"/>
<rect x="722" y="649" width="6" height="7" fill="#26a69a"/>
<rect x="729" y="650" width="6" height="6" fill="#b2dfdb"/>
<rect x="736" y="651" width="6" height="5" fill="#b2dfdb"/>
<rect x="743" y="652" width="6" height="4" fill="#b2dfdb"/>
<rect x="751" y="652" width="6" height="4" fill="#26a69a"/>
<rect x="758" y="650" width="6" height="6" fill="#26a69a"/>
<rect x="765" y="651" width="6" height="5" fill="#b2dfdb"/>
<rect x="772" y="652" width="6" height="4" fill="#b2dfdb"/>
<rect x="779" y="653" width="6" height="3" fill="#b2dfdb"/>
<rect x="787" y="653" width="6" height="3" fill="#b2dfdb"/>
<rect x="794" y="652" width="6" height="4" fill="#26a69a"/>
<rect x="801" y="652" width="6" height="4" fill="#26a69a"/>
<rect x="808" y="652" width="6" height="4" fill="#26a69a"/>
<rect x="816" y="651" width="6" height="5" fill="#26a69a"/>
<rect x="823" y="647" width="6" height="9" fill="#26a69a"/>
<rect x="830" y="646" width="6" height="10" fill="#26a69a"/>
<rect x="837" y="646" width="6" height="10" fill="#b2dfdb"/>
<rect x="844" y="647" width="6" height="9" fill="#b2dfdb"/>
<rect x="852" y="649" width="6" height="7" fill="#b2dfdb"/>
<rect x="859" y="650" width="6" height="6" fill="#b2dfdb"/>
<rect x="866" y="650" width="6" height="6" fill="#b2dfdb"/>
<rect x="873" y="647" width="6" height="9" fill="#26a69a"/>
<rect x="881" y="646" width="6" height="10" fill="#26a69a"/>
<rect x="888" y="646" width="6" height="10" fill="#b2dfdb"/>
<rect x="895" y="646" width="6" height="10" fill="#26a69a"/>
<rect x="902" y="646" width="6" height="10" fill="#26a69a"/>
<rect x="909" y="645" width="6" height="11" fill="#26a69a"/>
<rect x="917" y="647" width="6" height="9" fill="#b2dfdb"/>
<rect x="924" y="647" width="6" height="9" fill="#b2dfdb"/>
<rect x="931" y="647" width="6" height="9" fill="#26a69a"/>
<rect x="938" y="647" width="6" height="9" fill="#26a69a"/>
<rect x="946" y="646" width="6" height="10" fill="#26a69a"/>
<rect x="953" y="646" width="6" height="10" fill="#b2dfdb"/>
<rect x="960" y="648" width="6" height="8" fill="#b2dfdb"/>
<rect x="967" y="648" width="6" height="8" fill="#b2dfdb"/>
<rect x="974" y="651" width="6" height="5" fill="#b2dfdb"/>
<rect x="982" y="653" width="6" height="3" fill="#b2dfdb"/>
<rect x="989" y="655" width="6" height="1" fill="#ff5252"/>
<rect x="996" y="655" width="6" height="3" fill="#ff5252"/>
<rect x="1003" y="655" width="6" height="5" fill="#ff5252"/>
<rect x="1010" y="655" width="6" height="6" fill="#ff5252"/>
<rect x="1018" y="655" width="6" height="6" fill="#ff5252"/>
<rect x="1025" y="655" width="6" height="5" fill="#ffcdd2"/>
<rect x="1032" y="655" width="6" height="1" fill="#ffcdd2"/>
<rect x="1039" y="655" width="6" height="1" fill="#ffcdd2"/>
<rect x="1047" y="655" width="6" height="1" fill="#ff5252"/>
<rect x="1054" y="655" width="6" height="1" fill="#ffcdd2"/>
<rect x="1061" y="655" width="6" height="1" fill="#ff5252"/>
<rect x="1068" y="655" width="6" height="1" fill="#ffcdd2"/>
<rect x="1075" y="655" width="6" height="1" fill="#ffcdd2"/>
<rect x="1083" y="655" width="6" height="1" fill="#ff5252"/>
<rect x="1090" y="655" width="6" height="1" fill="#ffcdd2"/>
<rect x="1097" y="654" width="6" height="2" fill="#26a69a"/>
<rect x="1104" y="655" width="6" height="1" fill="#ff5252"/>
<rect x="1112" y="655" width="6" height="1" fill="#ff5252"/>
<rect x="1119" y="655" width="6" height="1" fill="#ff5252"/>
<rect x="1126" y="655" width="6" height="4" fill="#ff5252"/>
<rect x="1133" y="655" width="6" height="5" fill="#ff5252"/>
<rect x="1140" y="655" width="6" height="5" fill="#ff5252"/>
<rect x="1148" y="655" width="6" height="4" fill="#ffcdd2"/>
<rect x="1155" y="655" width="6" height="3" fill="#ffcdd2"/>
<rect x="1162" y="655" width="6" height="3" fill="#ff5252"/>
<rect x="1169" y="655" width="6" height="3" fill="#ffcdd2"/>
<rect x="1176" y="655" width="6" height="1" fill="#ffcdd2"/>
<rect x="1184" y="655" width="6" height="1" fill="#ffcdd2"/>
<rect x="1191" y="655" width="6" height="1" fill="#ff5252"/>
<rect x="1198" y="655" width="6" height="4" fill="#ff5252"/>
<rect x="1205" y="655" width="6" height="5" fill="#ff5252"/>
<rect x="1213" y="655" width="6" height="5" fill="#ffcdd2"/>
</g>
<line x1="10" y1="655.5" x2="1515" y2="655.5" stroke="#a3a6af" stroke-width="1" stroke-dasharray="5 6"/>
<path d="M10.1,656.9 C13.4,657.0 23.2,657.3 30.2,657.3 C37.2,657.3 45.6,657.4 52.3,656.9 C59.0,656.4 64.0,655.4 70.4,654.3 C76.8,653.2 83.8,652.3 90.5,650.3 C97.2,648.3 103.9,644.6 110.6,642.2 C117.3,639.9 124.0,637.6 130.7,636.2 C137.4,634.8 144.1,634.0 150.8,633.8 C157.5,633.6 162.6,634.5 171.0,635.2 C179.4,635.9 192.7,637.8 201.1,638.2 C209.5,638.6 214.5,638.9 221.2,637.6 C227.9,636.4 234.7,632.6 241.4,630.7 C248.1,628.8 256.1,627.0 261.5,626.1 C266.9,625.2 268.5,624.8 273.5,625.1 C278.5,625.4 286.2,627.1 291.6,628.1 C297.0,629.1 299.3,629.7 305.7,631.1 C312.1,632.5 322.7,634.6 330.1,636.8 C337.5,639.0 343.5,641.9 350.2,644.2 C356.9,646.6 363.6,649.0 370.3,650.9 C377.0,652.8 383.8,654.0 390.5,655.3 C397.2,656.6 403.9,658.1 410.6,658.9 C417.3,659.7 424.0,660.0 430.7,660.3 C437.4,660.6 444.1,660.4 450.8,660.9 C457.5,661.4 464.2,662.7 470.9,663.3 C477.6,663.9 484.3,664.4 491.0,664.7 C497.7,665.0 504.4,664.7 511.1,665.3 C517.8,665.9 524.5,667.4 531.2,668.4 C537.9,669.4 544.7,670.1 551.4,671.0 C558.1,671.9 564.8,673.1 571.5,674.0 C578.2,674.9 584.9,675.4 591.6,676.4 C598.3,677.4 603.6,678.1 611.7,679.8 C619.8,681.5 632.0,684.9 640.1,686.5 C648.2,688.1 654.8,688.9 660.2,689.5 C665.6,690.1 667.3,690.2 672.3,689.9 C677.3,689.6 684.0,688.8 690.4,687.5 C696.8,686.2 703.8,683.9 710.5,682.4 C717.2,680.9 723.9,679.5 730.6,678.4 C737.3,677.3 744.0,676.6 750.7,675.8 C757.4,675.0 764.1,674.0 770.8,673.4 C777.5,672.8 784.3,672.5 791.0,672.0 C797.7,671.5 806.1,670.9 811.1,670.4 C816.1,669.9 816.1,670.4 821.1,669.0 C826.1,667.6 834.5,663.7 841.2,661.9 C847.9,660.1 856.3,659.1 861.3,658.3 C866.3,657.5 866.4,658.1 871.4,656.9 C876.4,655.7 884.8,653.0 891.5,650.9 C898.2,648.8 904.9,646.3 911.6,644.2 C918.3,642.1 925.3,640.0 931.7,638.2 C938.1,636.4 943.7,634.9 950.1,633.2 C956.5,631.5 964.2,629.1 970.2,628.1 C976.2,627.1 980.3,626.9 986.3,627.1 C992.3,627.3 999.7,628.2 1006.4,629.1 C1013.1,630.0 1019.1,631.5 1026.5,632.2 C1033.9,633.0 1043.3,633.2 1050.7,633.6 C1058.1,634.0 1062.4,634.3 1070.8,634.6 C1079.2,634.9 1092.6,635.0 1101.0,635.2 C1109.4,635.4 1114.4,635.0 1121.1,635.6 C1127.8,636.2 1134.5,637.9 1141.2,638.8 C1147.9,639.7 1154.6,640.3 1161.3,640.8 C1168.0,641.3 1176.4,641.6 1181.4,641.8 C1186.4,642.0 1188.1,641.9 1191.5,642.2 C1194.9,642.5 1197.6,643.4 1201.6,643.8 C1205.6,644.2 1213.3,644.6 1215.6,644.8" fill="none" stroke="#ff6d00" stroke-width="1.2" stroke-linejoin="round"/>
<path d="M10.1,661.3 C12.4,660.7 19.1,658.4 24.1,657.7 C29.1,657.0 35.5,657.1 40.2,656.9 C44.9,656.7 48.9,656.9 52.3,656.3 C55.6,655.7 57.3,654.3 60.3,653.3 C63.3,652.3 67.0,651.1 70.4,650.3 C73.8,649.4 77.2,649.2 80.5,648.2 C83.8,647.2 87.2,646.0 90.5,644.2 C93.8,642.4 97.2,639.3 100.6,637.2 C103.9,635.1 106.6,633.1 110.6,631.7 C114.6,630.4 119.7,629.4 124.7,629.1 C129.7,628.8 135.8,629.3 140.8,629.7 C145.8,630.1 150.2,630.3 154.9,631.7 C159.6,633.1 163.9,636.8 168.9,638.2 C173.9,639.6 179.3,639.7 185.0,640.2 C190.7,640.7 197.7,641.8 203.1,641.2 C208.5,640.6 212.2,638.6 217.2,636.8 C222.2,634.9 229.3,632.2 233.3,630.1 C237.3,628.0 238.4,625.8 241.4,624.1 C244.4,622.4 248.1,620.9 251.4,620.1 C254.8,619.3 258.1,618.6 261.5,619.1 C264.9,619.6 268.1,621.5 271.5,623.1 C274.9,624.7 278.2,627.0 281.6,628.7 C285.0,630.5 287.9,632.4 291.6,633.6 C295.3,634.8 300.0,634.8 303.7,635.8 C307.4,636.8 309.9,638.3 314.0,639.6 C318.1,640.9 322.1,641.2 328.1,643.6 C334.1,646.0 343.8,652.1 350.2,654.3 C356.6,656.5 359.6,655.6 366.3,656.9 C373.0,658.2 383.8,661.1 390.5,662.3 C397.2,663.5 400.5,663.9 406.5,663.9 C412.5,663.9 419.6,662.9 426.7,662.3 C433.8,661.7 442.1,659.6 448.8,660.3 C455.5,661.0 461.9,665.1 466.9,666.3 C471.9,667.5 474.9,667.6 478.9,667.3 C482.9,667.0 486.3,664.9 491.0,664.7 C495.7,664.5 502.1,665.0 507.1,665.9 C512.1,666.8 516.2,669.0 521.2,670.4 C526.2,671.8 531.3,673.6 537.3,674.4 C543.3,675.2 551.4,674.3 557.4,675.0 C563.4,675.7 567.1,677.4 573.5,678.4 C579.9,679.4 589.2,679.8 595.6,681.0 C602.0,682.2 606.0,683.6 611.7,685.4 C617.5,687.1 624.7,690.6 630.1,691.5 C635.5,692.4 639.1,690.2 644.1,690.5 C649.1,690.8 656.2,693.2 660.2,693.5 C664.2,693.8 664.9,693.7 668.3,692.5 C671.6,691.3 676.6,688.2 680.3,686.5 C684.0,684.8 686.7,684.1 690.4,682.4 C694.1,680.6 697.8,677.0 702.5,676.0 C707.2,675.0 714.2,676.7 718.6,676.4 C723.0,676.1 722.9,674.9 728.6,674.4 C734.3,673.9 747.3,674.1 752.7,673.4 C758.1,672.7 756.1,670.8 760.8,670.4 C765.5,670.0 775.9,671.0 780.9,671.0 C785.9,671.0 787.6,670.7 791.0,670.4 C794.4,670.1 796.6,669.7 801.0,669.0 C805.4,668.3 812.1,668.2 817.1,666.3 C822.1,664.3 827.2,659.4 831.2,657.3 C835.2,655.2 838.2,654.6 841.2,653.9 C844.2,653.2 846.6,653.2 849.3,653.3 C852.0,653.4 853.9,654.4 857.3,654.3 C860.6,654.2 866.0,654.1 869.4,652.9 C872.8,651.7 873.7,648.8 877.4,647.2 C881.1,645.6 885.8,645.2 891.5,643.2 C897.2,641.2 905.9,636.9 911.6,635.2 C917.3,633.5 920.6,634.6 925.7,633.2 C930.8,631.9 937.4,628.8 942.1,627.1 C946.8,625.4 950.8,623.7 954.1,623.1 C957.5,622.5 959.5,623.6 962.2,623.5 C964.9,623.4 967.2,622.4 970.2,622.5 C973.2,622.6 976.9,623.3 980.3,624.1 C983.6,624.9 985.9,625.8 990.3,627.1 C994.6,628.5 1001.4,630.7 1006.4,632.2 C1011.4,633.7 1017.0,635.4 1020.5,636.2 C1024.0,637.0 1025.2,637.1 1027.5,636.8 C1029.8,636.5 1030.7,634.6 1034.6,634.2 C1038.5,633.8 1046.3,634.4 1050.7,634.6 C1055.1,634.8 1055.7,634.9 1060.7,635.2 C1065.7,635.5 1075.4,636.0 1080.8,636.2 C1086.2,636.4 1089.5,636.4 1092.9,636.2 C1096.3,636.0 1096.3,634.8 1101.0,634.8 C1105.7,634.8 1116.1,635.3 1121.1,636.2 C1126.1,637.1 1127.4,639.1 1131.1,640.2 C1134.8,641.3 1139.2,642.4 1143.2,642.8 C1147.2,643.2 1151.3,642.5 1155.3,642.6 C1159.3,642.7 1163.1,643.2 1167.4,643.2 C1171.8,643.2 1177.4,642.8 1181.4,642.8 C1185.4,642.8 1188.1,642.5 1191.5,643.2 C1194.9,643.9 1197.6,645.9 1201.6,646.8 C1205.6,647.7 1213.3,648.3 1215.6,648.6" fill="none" stroke="#2962ff" stroke-width="1.2" stroke-linejoin="round"/>
</g>
<text x="18.1" y="629.1" font-size="11.5" textLength="29.8" lengthAdjust="spacingAndGlyphs" fill="#50535e">MACD</text>
<text x="55.3" y="629.1" font-size="11.5" textLength="48.3" lengthAdjust="spacingAndGlyphs" fill="#ffcdd2">−0.00129</text>
<text x="111.0" y="629.1" font-size="11.5" textLength="41.9" lengthAdjust="spacingAndGlyphs" fill="#2962ff">0.00206</text>
<text x="160.3" y="629.1" font-size="11.5" textLength="41.8" lengthAdjust="spacingAndGlyphs" fill="#ff6d00">0.00335</text>
<g clip-path="url(#rp)">
<rect x="10" y="722.5" width="1505" height="49.5" fill="#7e57c2" fill-opacity="0.1"/>
<line x1="10" y1="722.5" x2="1515" y2="722.5" stroke="#787b86" stroke-width="1" stroke-dasharray="5 6"/>
<line x1="10" y1="747.5" x2="1515" y2="747.5" stroke="#b2b5be" stroke-width="1" stroke-dasharray="5 6"/>
<line x1="10" y1="772.5" x2="1515" y2="772.5" stroke="#787b86" stroke-width="1" stroke-dasharray="5 6"/>
<clipPath id="obc"><rect x="10" y="703" width="1505" height="19.5"/></clipPath><clipPath id="osc"><rect x="10" y="772" width="1505" height="22"/></clipPath>
<polygon points="10.0,749.3 17.9,746.7 25.1,737.8 32.3,746.3 39.5,747.9 46.8,748.7 54.0,747.3 61.2,735.6 68.4,733.8 75.6,741.6 82.8,733.8 90.1,730.2 97.3,723.1 104.5,721.7 111.7,725.1 118.9,728.2 126.2,728.2 133.4,730.2 140.6,734.2 147.8,735.2 155.0,731.8 162.2,744.6 169.5,747.7 176.7,739.2 183.9,740.2 191.1,738.2 198.3,739.2 205.5,735.8 212.8,728.2 220.0,726.1 227.2,722.1 234.4,718.5 241.6,712.5 248.9,718.1 256.1,720.5 263.3,725.1 270.5,735.8 277.7,742.6 284.9,744.6 292.2,746.9 299.4,740.2 306.6,737.2 313.8,750.1 321.0,745.9 328.3,747.3 335.5,751.9 342.7,756.7 349.9,756.7 357.1,752.9 364.3,749.3 371.6,752.7 378.8,755.7 386.0,758.7 393.2,756.3 400.4,756.9 407.7,754.3 414.9,750.9 422.1,749.3 429.3,750.3 436.5,747.9 443.7,751.3 451.0,751.9 458.2,764.8 465.4,766.4 472.6,763.4 479.8,757.3 487.1,746.9 494.3,752.3 501.5,759.7 508.7,754.9 515.9,760.3 523.1,764.4 530.4,767.4 537.6,767.8 544.8,761.9 552.0,763.4 559.2,763.8 566.5,769.4 573.7,771.4 580.9,770.8 588.1,770.4 595.3,773.4 602.5,777.0 609.8,780.5 617.0,781.9 624.2,784.5 631.4,785.5 638.6,773.4 645.8,774.0 653.1,780.0 660.3,780.5 667.5,770.8 674.7,762.8 681.9,756.9 689.2,756.9 696.4,751.3 703.6,747.7 710.8,760.3 718.0,763.0 725.2,753.9 732.5,756.9 739.7,759.9 746.9,759.9 754.1,757.7 761.3,747.9 768.6,755.9 775.8,759.7 783.0,757.9 790.2,758.3 797.4,752.3 804.6,754.3 811.9,753.9 819.1,747.7 826.3,731.6 833.5,735.8 840.7,740.6 848.0,742.6 855.2,748.3 862.4,747.9 869.6,742.6 876.8,726.7 884.0,735.2 891.3,735.2 898.5,732.2 905.7,729.6 912.9,727.6 920.1,732.2 927.4,729.8 934.6,725.6 941.8,724.1 949.0,720.5 956.2,720.5 963.4,729.8 970.7,724.5 977.9,732.8 985.1,736.2 992.3,740.6 999.5,737.8 1006.7,742.6 1014.0,741.8 1021.2,741.2 1028.4,736.2 1035.6,726.1 1042.8,734.8 1050.1,738.2 1057.3,732.6 1064.5,741.2 1071.7,738.2 1078.9,737.2 1086.1,738.2 1093.4,735.6 1100.6,730.2 1107.8,736.8 1115.0,737.2 1122.2,737.8 1129.5,748.7 1136.7,744.6 1143.9,742.6 1151.1,739.8 1158.3,737.2 1165.5,741.6 1172.8,738.2 1180.0,736.8 1187.2,737.8 1194.4,741.2 1201.6,751.7 1208.9,747.3 1216.1,745.9 1216.1,722.5 10.0,722.5" fill="#26a69a" fill-opacity="0.15" clip-path="url(#obc)"/>
<polygon points="10.0,749.3 17.9,746.7 25.1,737.8 32.3,746.3 39.5,747.9 46.8,748.7 54.0,747.3 61.2,735.6 68.4,733.8 75.6,741.6 82.8,733.8 90.1,730.2 97.3,723.1 104.5,721.7 111.7,725.1 118.9,728.2 126.2,728.2 133.4,730.2 140.6,734.2 147.8,735.2 155.0,731.8 162.2,744.6 169.5,747.7 176.7,739.2 183.9,740.2 191.1,738.2 198.3,739.2 205.5,735.8 212.8,728.2 220.0,726.1 227.2,722.1 234.4,718.5 241.6,712.5 248.9,718.1 256.1,720.5 263.3,725.1 270.5,735.8 277.7,742.6 284.9,744.6 292.2,746.9 299.4,740.2 306.6,737.2 313.8,750.1 321.0,745.9 328.3,747.3 335.5,751.9 342.7,756.7 349.9,756.7 357.1,752.9 364.3,749.3 371.6,752.7 378.8,755.7 386.0,758.7 393.2,756.3 400.4,756.9 407.7,754.3 414.9,750.9 422.1,749.3 429.3,750.3 436.5,747.9 443.7,751.3 451.0,751.9 458.2,764.8 465.4,766.4 472.6,763.4 479.8,757.3 487.1,746.9 494.3,752.3 501.5,759.7 508.7,754.9 515.9,760.3 523.1,764.4 530.4,767.4 537.6,767.8 544.8,761.9 552.0,763.4 559.2,763.8 566.5,769.4 573.7,771.4 580.9,770.8 588.1,770.4 595.3,773.4 602.5,777.0 609.8,780.5 617.0,781.9 624.2,784.5 631.4,785.5 638.6,773.4 645.8,774.0 653.1,780.0 660.3,780.5 667.5,770.8 674.7,762.8 681.9,756.9 689.2,756.9 696.4,751.3 703.6,747.7 710.8,760.3 718.0,763.0 725.2,753.9 732.5,756.9 739.7,759.9 746.9,759.9 754.1,757.7 761.3,747.9 768.6,755.9 775.8,759.7 783.0,757.9 790.2,758.3 797.4,752.3 804.6,754.3 811.9,753.9 819.1,747.7 826.3,731.6 833.5,735.8 840.7,740.6 848.0,742.6 855.2,748.3 862.4,747.9 869.6,742.6 876.8,726.7 884.0,735.2 891.3,735.2 898.5,732.2 905.7,729.6 912.9,727.6 920.1,732.2 927.4,729.8 934.6,725.6 941.8,724.1 949.0,720.5 956.2,720.5 963.4,729.8 970.7,724.5 977.9,732.8 985.1,736.2 992.3,740.6 999.5,737.8 1006.7,742.6 1014.0,741.8 1021.2,741.2 1028.4,736.2 1035.6,726.1 1042.8,734.8 1050.1,738.2 1057.3,732.6 1064.5,741.2 1071.7,738.2 1078.9,737.2 1086.1,738.2 1093.4,735.6 1100.6,730.2 1107.8,736.8 1115.0,737.2 1122.2,737.8 1129.5,748.7 1136.7,744.6 1143.9,742.6 1151.1,739.8 1158.3,737.2 1165.5,741.6 1172.8,738.2 1180.0,736.8 1187.2,737.8 1194.4,741.2 1201.6,751.7 1208.9,747.3 1216.1,745.9 1216.1,772.0 10.0,772.0" fill="#f23645" fill-opacity="0.22" clip-path="url(#osc)"/>
<path d="M10.1,751.3 C13.4,751.2 23.5,750.8 30.2,750.7 C36.9,750.6 43.6,751.3 50.3,750.9 C57.0,750.5 64.7,749.1 70.4,748.3 C76.1,747.5 79.5,747.3 84.5,745.9 C89.5,744.5 95.2,741.4 100.6,739.8 C106.0,738.2 111.7,737.1 116.7,736.2 C121.7,735.3 124.3,735.1 130.7,734.2 C137.1,733.3 148.2,731.1 154.9,730.8 C161.6,730.5 165.0,731.8 171.0,732.2 C177.0,732.6 185.4,732.6 191.1,733.2 C196.8,733.8 200.1,735.2 205.1,735.6 C210.1,736.0 215.1,736.1 221.2,735.6 C227.2,735.1 234.7,733.6 241.4,732.6 C248.1,731.6 256.5,730.5 261.5,729.8 C266.5,729.1 266.5,728.7 271.5,728.6 C276.5,728.5 285.9,729.2 291.6,729.4 C297.3,729.6 299.3,728.8 305.7,729.8 C312.1,730.8 322.7,733.1 330.1,735.2 C337.5,737.3 343.5,740.4 350.2,742.6 C356.9,744.8 363.6,746.9 370.3,748.3 C377.0,749.6 383.8,749.9 390.5,750.7 C397.2,751.5 403.9,752.9 410.6,753.3 C417.3,753.7 424.0,753.5 430.7,753.3 C437.4,753.1 444.1,752.0 450.8,752.3 C457.5,752.6 464.2,754.9 470.9,755.3 C477.6,755.7 484.3,754.7 491.0,754.7 C497.7,754.7 504.4,754.6 511.1,755.3 C517.8,756.0 524.5,757.9 531.2,758.7 C537.9,759.5 544.7,759.9 551.4,760.3 C558.1,760.7 564.8,760.4 571.5,761.3 C578.2,762.1 584.9,764.0 591.6,765.4 C598.3,766.8 607.0,768.5 611.7,769.4 C616.4,770.3 615.3,770.0 620.0,770.8 C624.7,771.6 632.4,773.0 640.1,774.0 C647.8,775.0 657.9,776.8 666.3,776.8 C674.7,776.8 684.7,774.9 690.4,774.0 C696.1,773.1 695.5,772.5 700.5,771.4 C705.5,770.3 715.2,768.6 720.6,767.4 C726.0,766.2 727.6,765.2 732.6,764.0 C737.6,762.8 745.3,761.4 750.7,760.3 C756.1,759.2 758.1,757.9 764.8,757.3 C771.5,756.7 784.3,756.7 791.0,756.7 C797.7,756.7 800.0,757.5 805.0,757.3 C810.0,757.1 815.1,756.4 821.1,755.3 C827.1,754.2 834.5,751.8 841.2,750.7 C847.9,749.6 854.6,749.7 861.3,748.7 C868.0,747.7 874.8,746.1 881.5,744.7 C888.2,743.3 895.9,741.5 901.6,740.2 C907.3,738.9 910.7,737.5 915.7,736.8 C920.7,736.1 926.0,736.6 931.7,735.8 C937.4,735.0 943.7,733.5 950.1,732.2 C956.5,730.9 963.5,728.8 970.2,728.2 C976.9,727.6 983.6,728.4 990.3,728.8 C997.0,729.2 1003.8,730.0 1010.5,730.6 C1017.2,731.2 1023.9,732.0 1030.6,732.6 C1037.3,733.2 1044.0,733.5 1050.7,734.2 C1057.4,734.9 1064.1,736.3 1070.8,736.8 C1077.5,737.3 1084.2,737.4 1090.9,737.2 C1097.6,737.0 1106.0,736.0 1111.0,735.8 C1116.0,735.6 1116.1,735.4 1121.1,735.8 C1126.1,736.2 1134.5,737.7 1141.2,738.2 C1147.9,738.7 1154.6,738.5 1161.3,738.6 C1168.0,738.7 1176.4,738.5 1181.4,738.6 C1186.4,738.7 1188.1,738.8 1191.5,739.2 C1194.9,739.6 1197.6,740.6 1201.6,741.2 C1205.5,741.8 1212.9,742.4 1215.2,742.6" fill="none" stroke="#fdd835" stroke-width="1.2" stroke-linejoin="round"/>
<polyline points="10.0,749.3 17.9,746.7 25.1,737.8 32.3,746.3 39.5,747.9 46.8,748.7 54.0,747.3 61.2,735.6 68.4,733.8 75.6,741.6 82.8,733.8 90.1,730.2 97.3,723.1 104.5,721.7 111.7,725.1 118.9,728.2 126.2,728.2 133.4,730.2 140.6,734.2 147.8,735.2 155.0,731.8 162.2,744.6 169.5,747.7 176.7,739.2 183.9,740.2 191.1,738.2 198.3,739.2 205.5,735.8 212.8,728.2 220.0,726.1 227.2,722.1 234.4,718.5 241.6,712.5 248.9,718.1 256.1,720.5 263.3,725.1 270.5,735.8 277.7,742.6 284.9,744.6 292.2,746.9 299.4,740.2 306.6,737.2 313.8,750.1 321.0,745.9 328.3,747.3 335.5,751.9 342.7,756.7 349.9,756.7 357.1,752.9 364.3,749.3 371.6,752.7 378.8,755.7 386.0,758.7 393.2,756.3 400.4,756.9 407.7,754.3 414.9,750.9 422.1,749.3 429.3,750.3 436.5,747.9 443.7,751.3 451.0,751.9 458.2,764.8 465.4,766.4 472.6,763.4 479.8,757.3 487.1,746.9 494.3,752.3 501.5,759.7 508.7,754.9 515.9,760.3 523.1,764.4 530.4,767.4 537.6,767.8 544.8,761.9 552.0,763.4 559.2,763.8 566.5,769.4 573.7,771.4 580.9,770.8 588.1,770.4 595.3,773.4 602.5,777.0 609.8,780.5 617.0,781.9 624.2,784.5 631.4,785.5 638.6,773.4 645.8,774.0 653.1,780.0 660.3,780.5 667.5,770.8 674.7,762.8 681.9,756.9 689.2,756.9 696.4,751.3 703.6,747.7 710.8,760.3 718.0,763.0 725.2,753.9 732.5,756.9 739.7,759.9 746.9,759.9 754.1,757.7 761.3,747.9 768.6,755.9 775.8,759.7 783.0,757.9 790.2,758.3 797.4,752.3 804.6,754.3 811.9,753.9 819.1,747.7 826.3,731.6 833.5,735.8 840.7,740.6 848.0,742.6 855.2,748.3 862.4,747.9 869.6,742.6 876.8,726.7 884.0,735.2 891.3,735.2 898.5,732.2 905.7,729.6 912.9,727.6 920.1,732.2 927.4,729.8 934.6,725.6 941.8,724.1 949.0,720.5 956.2,720.5 963.4,729.8 970.7,724.5 977.9,732.8 985.1,736.2 992.3,740.6 999.5,737.8 1006.7,742.6 1014.0,741.8 1021.2,741.2 1028.4,736.2 1035.6,726.1 1042.8,734.8 1050.1,738.2 1057.3,732.6 1064.5,741.2 1071.7,738.2 1078.9,737.2 1086.1,738.2 1093.4,735.6 1100.6,730.2 1107.8,736.8 1115.0,737.2 1122.2,737.8 1129.5,748.7 1136.7,744.6 1143.9,742.6 1151.1,739.8 1158.3,737.2 1165.5,741.6 1172.8,738.2 1180.0,736.8 1187.2,737.8 1194.4,741.2 1201.6,751.7 1208.9,747.3 1216.1,745.9" fill="none" stroke="#7e57c2" stroke-width="1.2" stroke-linejoin="round"/>
</g>
<text x="18.1" y="721.7" font-size="11.5" textLength="17.1" lengthAdjust="spacingAndGlyphs" fill="#50535e">RSI</text>
<text x="41.2" y="721.7" font-size="11.5" textLength="29.2" lengthAdjust="spacingAndGlyphs" fill="#7e57c2">50.96</text>
<text x="78.4" y="721.7" font-size="11.5" textLength="29.2" lengthAdjust="spacingAndGlyphs" fill="#fdd835">53.75</text>
<text x="115.6" y="721.7" font-size="11.5" textLength="7.5" lengthAdjust="spacingAndGlyphs" fill="#50535e">Ø</text>
<text x="130.7" y="721.7" font-size="11.5" textLength="7.5" lengthAdjust="spacingAndGlyphs" fill="#50535e">Ø</text>
<text x="146.2" y="721.7" font-size="11.5" textLength="7.5" lengthAdjust="spacingAndGlyphs" fill="#50535e">Ø</text>
<text x="161.9" y="721.7" font-size="11.5" textLength="7.5" lengthAdjust="spacingAndGlyphs" fill="#50535e">Ø</text>
<text x="213.2" y="721.7" font-size="11.5" textLength="7.5" lengthAdjust="spacingAndGlyphs" fill="#50535e">Ø</text>
<line x1="1515.5" y1="27" x2="1515.5" y2="822" stroke="#2a2e39" stroke-width="1"/>
<line x1="10" y1="794.5" x2="1581" y2="794.5" stroke="#2a2e39" stroke-width="1"/>
<rect x="1519.5" y="31" width="57" height="25" rx="4" fill="#fff" stroke="#e0e3eb"/>
<text x="1527.9" y="48.8" font-size="12" textLength="21.0" lengthAdjust="spacingAndGlyphs" fill="#131722">USD</text>
<text x="1524.0" y="100.7" font-size="12" textLength="40.6" lengthAdjust="spacingAndGlyphs" fill="#5d606b">1.31000</text>
<text x="1524.0" y="145.7" font-size="12" textLength="40.6" lengthAdjust="spacingAndGlyphs" fill="#5d606b">1.30000</text>
<text x="1524.0" y="190.7" font-size="12" textLength="40.6" lengthAdjust="spacingAndGlyphs" fill="#5d606b">1.29000</text>
<text x="1524.0" y="235.7" font-size="12" textLength="40.6" lengthAdjust="spacingAndGlyphs" fill="#5d606b">1.28000</text>
<text x="1524.0" y="280.7" font-size="12" textLength="40.6" lengthAdjust="spacingAndGlyphs" fill="#5d606b">1.27000</text>
<text x="1524.0" y="325.7" font-size="12" textLength="40.6" lengthAdjust="spacingAndGlyphs" fill="#5d606b">1.26000</text>
<text x="1524.0" y="370.7" font-size="12" textLength="40.6" lengthAdjust="spacingAndGlyphs" fill="#5d606b">1.25000</text>
<text x="1524.0" y="415.7" font-size="12" textLength="40.6" lengthAdjust="spacingAndGlyphs" fill="#5d606b">1.24000</text>
<text x="1524.0" y="460.7" font-size="12" textLength="40.6" lengthAdjust="spacingAndGlyphs" fill="#5d606b">1.23000</text>
<text x="1524.0" y="505.7" font-size="12" textLength="40.6" lengthAdjust="spacingAndGlyphs" fill="#5d606b">1.22000</text>
<text x="1524.0" y="550.7" font-size="12" textLength="40.6" lengthAdjust="spacingAndGlyphs" fill="#5d606b">1.21000</text>
<text x="1524.0" y="595.7" font-size="12" textLength="40.6" lengthAdjust="spacingAndGlyphs" fill="#5d606b">1.20000</text>
<rect x="1515" y="116" width="56" height="34" rx="2" fill="#131722"/>
<text x="1523.6" y="129.3" font-size="12" font-weight="bold" textLength="41.2" lengthAdjust="spacingAndGlyphs" fill="#fff">1.30000</text>
<text x="1523.6" y="145.8" font-size="12" font-weight="bold" textLength="41.2" lengthAdjust="spacingAndGlyphs" fill="#fff">1.30000</text>
<rect x="1515" y="226.3" width="56" height="16.399999999999977" rx="2" fill="#000"/>
<text x="1523.6" y="239.0" font-size="12" font-weight="bold" textLength="41.2" lengthAdjust="spacingAndGlyphs" fill="#fff">1.27943</text>
<rect x="1515" y="253.3" width="56" height="16.19999999999999" rx="2" fill="#000"/>
<text x="1523.6" y="266.0" font-size="12" font-weight="bold" textLength="41.2" lengthAdjust="spacingAndGlyphs" fill="#fff">1.27335</text>
<rect x="1515" y="273.5" width="60" height="30.100000000000023" rx="2" fill="#26a69a"/>
<text x="1523.6" y="286.2" font-size="12" font-weight="bold" textLength="41.2" lengthAdjust="spacingAndGlyphs" fill="#fff">1.26895</text>
<text x="1523.6" y="300.8" font-size="12" textLength="46.2" lengthAdjust="spacingAndGlyphs" fill="#c8ebe6">13:42:44</text>
<rect x="1462" y="273.5" width="52" height="16.30000000000001" rx="2" fill="#26a69a"/>
<text x="1466.6" y="286.2" font-size="12" font-weight="bold" textLength="42.7" lengthAdjust="spacingAndGlyphs" fill="#fff">GBPUSD</text>
<rect x="1515" y="304.6" width="56" height="16.599999999999966" rx="2" fill="#2b2bff"/>
<text x="1523.6" y="317.0" font-size="12" font-weight="bold" textLength="41.2" lengthAdjust="spacingAndGlyphs" fill="#fff">1.26277</text>
<rect x="1463" y="304.6" width="51" height="15.899999999999977" rx="2" fill="#2b2bff"/>
<text x="1468.0" y="317.0" font-size="12" font-weight="bold" textLength="41.3" lengthAdjust="spacingAndGlyphs" fill="#fff">SMA:MA</text>
<rect x="1515" y="321" width="56" height="33.80000000000001" rx="2" fill="#131722"/>
<text x="1523.6" y="334.0" font-size="12" font-weight="bold" textLength="41.2" lengthAdjust="spacingAndGlyphs" fill="#fff">1.25858</text>
<text x="1523.6" y="350.6" font-size="12" font-weight="bold" textLength="41.2" lengthAdjust="spacingAndGlyphs" fill="#fff">1.25841</text>
<rect x="1515" y="355.2" width="56" height="16.5" rx="2" fill="#f23645"/>
<text x="1523.6" y="368.0" font-size="12" font-weight="bold" textLength="41.2" lengthAdjust="spacingAndGlyphs" fill="#fff">1.25499</text>
<rect x="1463" y="355.2" width="51" height="16.5" rx="2" fill="#f23645"/>
<text x="1468.0" y="368.0" font-size="12" font-weight="bold" textLength="41.3" lengthAdjust="spacingAndGlyphs" fill="#fff">SMA:MA</text>
<rect x="1515" y="427.5" width="56" height="16.100000000000023" rx="2" fill="#000"/>
<text x="1523.6" y="440.0" font-size="12" font-weight="bold" textLength="41.2" lengthAdjust="spacingAndGlyphs" fill="#fff">1.23460</text>
<rect x="1515" y="493.3" width="56" height="16.099999999999966" rx="2" fill="#000"/>
<text x="1523.6" y="505.8" font-size="12" font-weight="bold" textLength="41.2" lengthAdjust="spacingAndGlyphs" fill="#fff">1.22001</text>
<rect x="1515" y="566" width="56" height="16.700000000000045" rx="2" fill="#000"/>
<text x="1523.6" y="578.8" font-size="12" font-weight="bold" textLength="41.2" lengthAdjust="spacingAndGlyphs" fill="#fff">1.20385</text>
<rect x="1515" y="583.2" width="56" height="15.599999999999909" rx="2" fill="#9c27b0"/>
<text x="1523.6" y="595.3" font-size="12" font-weight="bold" textLength="41.2" lengthAdjust="spacingAndGlyphs" fill="#fff">1.20000</text>
<rect x="1473.4" y="617" width="40.59999999999991" height="16.799999999999955" rx="2" fill="#ff6d00"/>
<text x="1476.9" y="629.2" font-size="12" font-weight="bold" textLength="31.5" lengthAdjust="spacingAndGlyphs" fill="#fff">Signal</text>
<rect x="1515" y="617" width="55.700000000000045" height="16.799999999999955" rx="2" fill="#ff6d00"/>
<text x="1523.6" y="629.2" font-size="12" font-weight="bold" textLength="42.0" lengthAdjust="spacingAndGlyphs" fill="#fff">0.00335</text>
<rect x="1474" y="634.3" width="40" height="16.300000000000068" rx="2" fill="#2962ff"/>
<text x="1478.5" y="646.2" font-size="12" font-weight="bold" textLength="30.4" lengthAdjust="spacingAndGlyphs" fill="#fff">MACD</text>
<rect x="1515" y="634.3" width="55.700000000000045" height="16.300000000000068" rx="2" fill="#2962ff"/>
<text x="1523.6" y="646.2" font-size="12" font-weight="bold" textLength="42.0" lengthAdjust="spacingAndGlyphs" fill="#fff">0.00206</text>
<rect x="1450" y="651.4" width="64" height="16.300000000000068" rx="2" fill="#fccbcd"/>
<text x="1455.2" y="663.0" font-size="12" textLength="53.2" lengthAdjust="spacingAndGlyphs" fill="#131722">Histogram</text>
<rect x="1515" y="651.4" width="61.5" height="16.300000000000068" rx="2" fill="#fccbcd"/>
<text x="1523.6" y="663.0" font-size="12" textLength="48.5" lengthAdjust="spacingAndGlyphs" fill="#131722">−0.00129</text>
<rect x="1514" y="703" width="3" height="68" fill="#fff"/>
<rect x="1420" y="704" width="155" height="16.5" fill="#fff"/>
<text x="1426.7" y="716.0" font-size="12" textLength="81.7" lengthAdjust="spacingAndGlyphs" fill="#131722">Regular Bearish</text>
<text x="1522.9" y="716.0" font-size="12" textLength="28.7" lengthAdjust="spacingAndGlyphs" fill="#131722">58.21</text>
<rect x="1434" y="721.4" width="80" height="16.300000000000068" rx="2" fill="#ffeb3b"/>
<text x="1438.4" y="733.5" font-size="12" textLength="70.5" lengthAdjust="spacingAndGlyphs" fill="#131722">RSI-based MA</text>
<rect x="1515" y="721.4" width="42.90000000000009" height="16.300000000000068" rx="2" fill="#ffeb3b"/>
<text x="1523.6" y="733.5" font-size="12" textLength="29.8" lengthAdjust="spacingAndGlyphs" fill="#131722">53.75</text>
<rect x="1487.8" y="738.4" width="26.200000000000045" height="16.399999999999977" rx="2" fill="#7e57c2"/>
<text x="1493.2" y="750.6" font-size="12" font-weight="bold" textLength="15.7" lengthAdjust="spacingAndGlyphs" fill="#fff">RSI</text>
<rect x="1515" y="738.4" width="42.90000000000009" height="16.399999999999977" rx="2" fill="#7e57c2"/>
<text x="1523.6" y="750.6" font-size="12" font-weight="bold" textLength="29.8" lengthAdjust="spacingAndGlyphs" fill="#fff">50.96</text>
<rect x="1424" y="755.3" width="151" height="15.5" fill="#fff"/>
<text x="1430.2" y="766.2" font-size="12" textLength="78.2" lengthAdjust="spacingAndGlyphs" fill="#131722">Regular Bullish</text>
<text x="1522.9" y="766.2" font-size="12" textLength="29.8" lengthAdjust="spacingAndGlyphs" fill="#131722">48.50</text>
<text x="1522.9" y="782.0" font-size="12" textLength="29.8" lengthAdjust="spacingAndGlyphs" fill="#b2b5be">25.00</text>
<text x="15.6" y="811.9" font-size="12" textLength="18.3" lengthAdjust="spacingAndGlyphs" fill="#50535e">Jun</text>
<text x="175.5" y="811.9" font-size="12" textLength="15.6" lengthAdjust="spacingAndGlyphs" fill="#50535e">Jul</text>
<text x="325.0" y="811.9" font-size="12" textLength="19.4" lengthAdjust="spacingAndGlyphs" fill="#50535e">Aug</text>
<text x="491.2" y="811.9" font-size="12" textLength="19.1" lengthAdjust="spacingAndGlyphs" fill="#50535e">Sep</text>
<text x="643.5" y="811.9" font-size="12" textLength="18.5" lengthAdjust="spacingAndGlyphs" fill="#50535e">Oct</text>
<text x="801.4" y="811.9" font-size="12" textLength="20.4" lengthAdjust="spacingAndGlyphs" fill="#50535e">Nov</text>
<text x="960.0" y="811.9" font-size="12" textLength="20.3" lengthAdjust="spacingAndGlyphs" fill="#50535e">Dec</text>
<text x="1107.7" y="811.9" font-size="12" font-weight="bold" textLength="28.1" lengthAdjust="spacingAndGlyphs" fill="#131722">2024</text>
<text x="1278.0" y="811.9" font-size="12" textLength="19.3" lengthAdjust="spacingAndGlyphs" fill="#50535e">Feb</text>
<text x="1429.8" y="811.9" font-size="12" textLength="18.9" lengthAdjust="spacingAndGlyphs" fill="#50535e">Mar</text>
<g fill="#131722"><path d="M10,834.2 H18.1 V843.8 H13.8 V837.7 H10 Z"/><circle cx="21.2" cy="836" r="1.9"/><path d="M24,834.2 H29.4 L25.4,843.8 H20.6 Z"/></g>
<text x="33.4" y="844.1" font-size="13.5" textLength="69.6" lengthAdjust="spacingAndGlyphs" fill="#131722">TradingView</text>
<defs><filter id="ds" x="-10%" y="-10%" width="130%" height="130%"><feDropShadow dx="1.8" dy="1.6" stdDeviation="0.9" flood-color="#555" flood-opacity="0.85"/></filter><filter id="ds2" x="-10%" y="-10%" width="130%" height="130%"><feDropShadow dx="-1" dy="1.2" stdDeviation="0.5" flood-color="#4a6fc0" flood-opacity="0.8"/></filter></defs>
<g filter="url(#ds)" fill="#fdfdfd" opacity="0.9">
<g transform="translate(1356,765) skewX(-14)"><rect x="2.5" y="0" width="11.5" height="15"/><rect x="0" y="17" width="13" height="10"/><polygon points="0,53 14,53 17,31 8,31"/><rect x="13" y="0" width="40" height="9"/><rect x="13" y="9" width="11" height="44"/><rect x="43" y="9" width="9" height="44"/><rect x="13" y="9" width="39" height="9"/><rect x="2.5" y="27.5" width="52.5" height="7.5"/><rect x="13" y="45.6" width="39" height="7.399999999999999"/></g>
<g transform="translate(1421,765) skewX(-14)"><rect x="-2" y="1" width="49" height="6"/><rect x="-2" y="1" width="7" height="20"/><rect x="-2" y="20" width="49" height="9"/><rect x="-4" y="35.5" width="49" height="8.5"/><rect x="36" y="1" width="12" height="53"/><rect x="24" y="47" width="25" height="7"/></g>
<g transform="translate(1482,765) skewX(-14)"><rect x="0" y="2" width="20" height="7"/><rect x="0" y="2" width="6" height="40"/><rect x="14" y="2" width="6" height="40"/><rect x="0" y="36" width="20" height="6"/><rect x="7" y="14" width="6" height="16"/><polygon points="0,54 7,54 9,42 3,42"/><polygon points="13,54 20,54 18,42 12,42"/><rect x="22" y="12" width="26" height="7"/><rect x="36" y="0" width="7" height="54"/><rect x="29" y="48" width="14" height="6"/><polygon points="21,48 28,48 37,22 31,22"/></g>
<g transform="translate(1542,765) skewX(-14)"><polygon points="8,0 15,0 6,16 0,16"/><rect x="0" y="13" width="16" height="6"/><polygon points="12,9 19,9 7,30 0,30"/><rect x="0" y="25" width="19" height="6"/><polygon points="0,54 7,54 20,37 13,37"/><rect x="20" y="0" width="27" height="7"/><polygon points="19,25 28,25 47,5 38,5"/><polygon points="29,9 36,9 50,25 42,25"/><rect x="24" y="31" width="23" height="6"/><rect x="32" y="27" width="7" height="23"/><rect x="17" y="47" width="33" height="7"/></g>
</g>
<g filter="url(#ds2)" fill="#8fb0fa" stroke="#8fb0fa" stroke-width="1.2" font-weight="bold" font-style="italic">
<text x="1355.2" y="852" font-size="36" textLength="21.9" lengthAdjust="spacingAndGlyphs">z</text>
<text x="1381.8" y="852" font-size="36" textLength="21.9" lengthAdjust="spacingAndGlyphs">z</text>
<text x="1409.9" y="852" font-size="36" textLength="17.9" lengthAdjust="spacingAndGlyphs">r</text>
<text x="1428.5" y="852" font-size="33" textLength="21.8" lengthAdjust="spacingAndGlyphs">t</text>
<text x="1453.4" y="852" font-size="33" textLength="21.1" lengthAdjust="spacingAndGlyphs">0</text>
<text x="1484.7" y="852" font-size="33" textLength="18.8" lengthAdjust="spacingAndGlyphs">1</text>
<text x="1512.1" y="852" font-size="33" textLength="10.7" lengthAdjust="spacingAndGlyphs">.</text>
<text x="1532.2" y="852" font-size="36" textLength="22.8" lengthAdjust="spacingAndGlyphs">c</text>
<text x="1556.3" y="852" font-size="36" textLength="23.6" lengthAdjust="spacingAndGlyphs">n</text>
</g>
</svg></body></html>
